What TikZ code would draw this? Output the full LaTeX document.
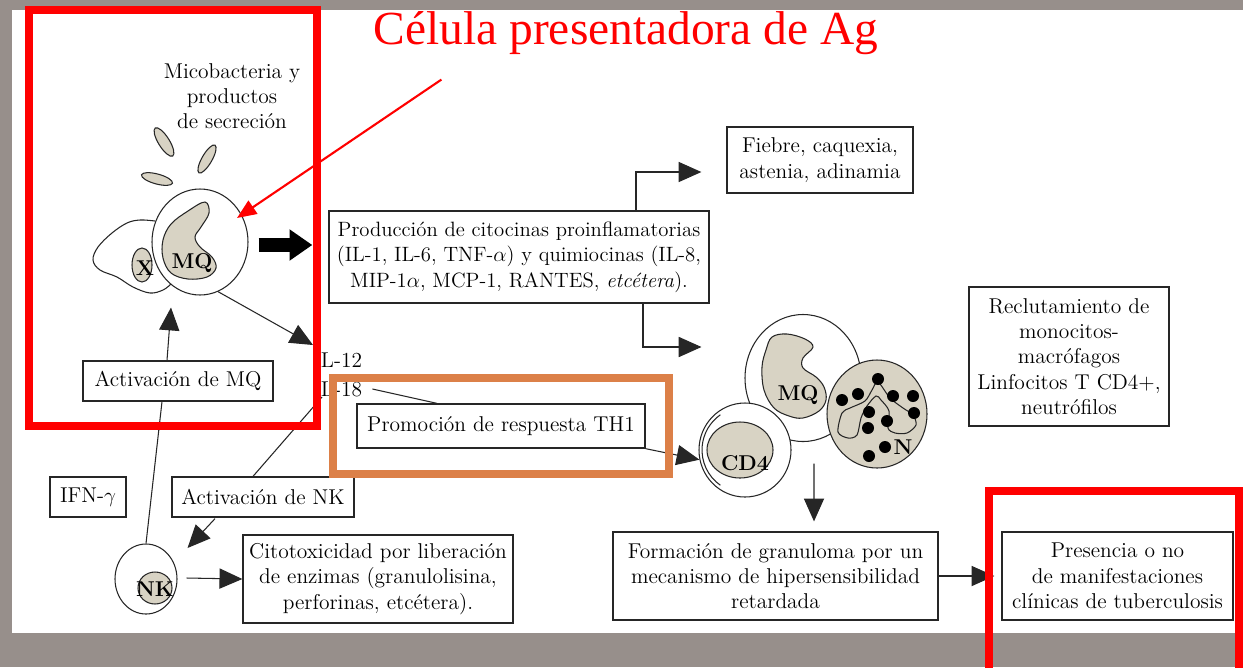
\documentclass[tikz,border=0pt]{standalone}
\usepackage{fontspec}
\newfontfamily\titlefont{Liberation Serif}
\usetikzlibrary{arrows.meta,shapes.geometric,calc}
\definecolor{slate}{RGB}{151,143,139}
\definecolor{cellgrey}{RGB}{216,211,196}
\definecolor{framered}{RGB}{255,0,0}
\definecolor{frameorange}{RGB}{220,128,72}
\newcommand\diagfont{\fontsize{12.2}{14.4}\selectfont}
\begin{document}
\begin{tikzpicture}[x=0.02cm,y=-0.02cm,
  wh/.style 2 args={minimum width=#1*0.02cm,minimum height=#2*0.02cm},
  box/.style={draw=black!85,line width=0.75pt,fill=white,inner sep=0pt,align=center,font=\diagfont},
  lbl/.style={inner sep=0pt,align=center,font=\diagfont},
  boldlbl/.style={inner sep=0pt,font=\diagfont\bfseries},
  cell/.style={ellipse,draw=black!85,line width=0.6pt,inner sep=0pt},
  link/.style={draw=black!85,line width=0.6pt},
  arr/.style={link,-{Triangle[length=13pt,width=11.5pt]}},
  frame/.style={line width=4.6pt},
]
\useasboundingbox (0,0) rectangle (1243,667);
\clip (0,0) rectangle (1243,667);
% slide background and white panel
\fill[slate] (0,0) rectangle (1243,667);
\fill[white] (12,10) rectangle (1243,633);

% ---------- antigen-presenting cell (left) ----------
\draw[link] plot[smooth,tension=0.6] coordinates {(155,221) (140,220) (127,223) (112,233) (98,247) (93,260) (100,270) (117,277) (133,287) (150,293) (163,290) (171,284)};
\node[cell,fill=cellgrey,wh={20}{34}] (xnuc) at (142,265) {};
\node[boldlbl] (xlab) at (145,268) {X};
\node[cell,fill=white,wh={96}{106}] (mq) at (200,242) {};
\draw[link,fill=cellgrey] plot[smooth cycle,tension=0.6] coordinates {(205,202) (209,213) (201,227) (195,237) (200,247) (212,257) (216,268) (207,277) (188,279) (171,273) (163,258) (163,240) (171,224) (188,211)};
\node[boldlbl] (mqlab) at (192,263) {MQ};
% mycobacteria
\node[cell,fill=cellgrey,wh={33}{11},rotate=-58] (bac1) at (164,142) {};
\node[cell,fill=cellgrey,wh={32}{10},rotate=60] (bac2) at (207,159) {};
\node[cell,fill=cellgrey,wh={32}{10},rotate=-15] (bac3) at (157,179) {};
\node[lbl] (mico) at (232,96) {Micobacteria y\\productos\\de secreción};

% ---------- NK cell ----------
\node[cell,fill=white,wh={62}{70}] (nk) at (146,579) {};
\node[cell,fill=cellgrey,wh={34}{32}] (nknuc) at (155,588) {};
\node[boldlbl] (nklab) at (155,589) {NK};

% ---------- cell cluster (centre) ----------
\node[cell,fill=white,wh={116}{127}] (mq2) at (803,378) {};
\draw[link,fill=cellgrey] plot[smooth cycle,tension=0.6] coordinates {(772,337) (787,334) (805,339) (813,347) (803,358) (803,368) (816,377) (824,387) (826,400) (819,411) (803,418) (789,416) (774,408) (764,390) (762,367) (766,350)};
\node[boldlbl] (mq2lab) at (798,395) {MQ};
\node[cell,fill=white,wh={92}{94}] (cd4) at (745,450) {};
\draw[link] (cd4.center) ++(125:43) arc[start angle=125,end angle=235,radius=43];
\node[cell,fill=cellgrey,wh={66}{56}] (cd4nuc) at (740,450) {};
\node[boldlbl] (cd4lab) at (745,463) {CD4};
\node[cell,fill=cellgrey,wh={100}{108}] (ncell) at (877,414) {};
\draw[link] plot[smooth cycle,tension=0.5] coordinates {(838,432) (842,413) (850,408) (865,401) (872,390) (878,382) (890,398) (903,408) (913,415) (916,425) (907,433) (895,433) (888,428) (889,411) (881,400) (876,396) (867,406) (861,418) (857,435) (848,438)};
\foreach \p in {(878,379),(858,394),(842,400),(893,396),(913,396),(869,412),(914,413),(887,421),(868,428),(885,447),(869,456)}
  \fill[black] \p circle (6);
\node[boldlbl] (nlab) at (903,447) {N};

% ---------- text boxes ----------
\node[box,wh={380}{92},font=\fontsize{11.8}{14.4}\selectfont] (prod) at (519,257) {Producción de citocinas proinflamatorias\\(IL-1, IL-6, TNF-$\alpha$) y quimiocinas (IL-8,\\MIP-1$\alpha$, MCP-1, RANTES, \textit{etcétera}).};
\node[box,wh={186}{66}] (fiebre) at (820,160) {Fiebre, caquexia,\\astenia, adinamia};
\node[box,wh={200}{139}] (reclut) at (1069,356.5) {Reclutamiento de\\monocitos-\\macrófagos\\Linfocitos T CD4+,\\neutrófilos};
\node[box,wh={288}{44}] (promo) at (501,426) {Promoción de respuesta TH1};
\node[box,wh={190}{40}] (actmq) at (178,381) {Activación de MQ};
\node[box,wh={76}{40}] (ifn) at (88,497) {IFN-$\gamma$};
\node[box,wh={182}{40}] (actnk) at (263,497) {Activación de NK};
\node[box,wh={270}{88}] (cito) at (378,579) {Citotoxicidad por liberación\\de enzimas (granulolisina,\\perforinas, etcétera).};
\node[box,wh={325}{88}] (form) at (775.5,576) {Formación de granuloma por un\\mecanismo de hipersensibilidad\\retardada};
\node[box,wh={231}{88}] (pres) at (1117.5,576) {Presencia o no\\de manifestaciones\\clínicas de tuberculosis};
\node[lbl,anchor=west] (il12) at (313,360) {IL-12};
\node[lbl,anchor=west] (il18) at (313,389) {IL-18};

% ---------- connectors ----------
\draw[black,line width=8pt,-{Triangle[length=13pt,width=17pt]}] ($(mq.east)+(10,3)$) -- ($(prod.west)+(-16,-12)$);
\draw[arr] (mq.-70) -- ($(il12.west)+(0,-15)$);
\draw[arr] ($(actmq.north)+(-11,0)$) -- ($(mq.south)+(-29,12)$);
\draw[link] (nk.north) -- ($(actmq.south)+(-16,0)$);
\draw[link] ($(il18.west)+(9,8)$) -- ($(actnk.north)+(-10,0)$);
\draw[arr] ($(actnk.south)+(-48,1)$) -- ($(nk.east)+(10,-31)$);
\draw[arr] ($(nk.east)+(9,-1)$) -- (cito.west);
\draw[link] ($(il18.east)+(10,0)$) -- ($(promo.north)+(-64,0)$);
\draw[arr] (promo.south east) -- (cd4.192);
\draw[arr] ($(prod.north)+(117,0)$) |- ($(fiebre.west)+(-25,12)$);
\draw[arr] ($(prod.south)+(124,0)$) |- ($(mq2.west)+(-43,-31)$);
\draw[arr] ($(mq2.south)+(11,21.5)$) -- ($(form.north)+(38.5,-10)$);
\draw[arr] (form.east) -- ($(pres.west)+(-7,0)$);

% ---------- highlight frames and title ----------
\draw[frame,framered] (29,10) rectangle (317,426);
\draw[frame,frameorange] (333,378) rectangle (669,474);
\draw[frame,framered] (989,491) rectangle (1239,690);
\node[anchor=base,text=framered,inner sep=0pt,font=\titlefont\fontsize{27}{30}\selectfont] (title) at (626,44) {Célula presentadora de Ag};
\draw[framered,line width=1.2pt,-{Triangle[length=11pt,width=9pt]}] ($(title.south west)+(68,25)$) -- ($(mq.center)+(37,-24)$);
\end{tikzpicture}
\end{document}
